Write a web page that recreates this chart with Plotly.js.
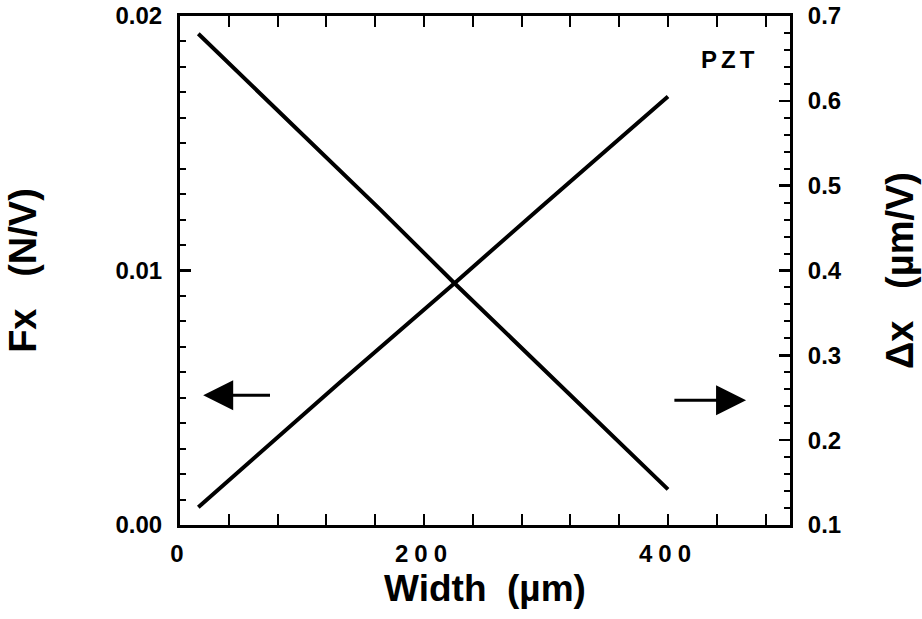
<!DOCTYPE html>
<html>
<head>
<meta charset="utf-8">
<script src="https://cdn.plot.ly/plotly-3.0.1.min.js"></script>
<style>
  html, body { margin: 0; padding: 0; background: #fff; }
  #chart { width: 922px; height: 619px; }
  .xtick text { letter-spacing: 6px; }
  .annotation-text { letter-spacing: 4px; }
</style>
</head>
<body>
<div id="chart"></div>
<script>
// Width (µm) and Fx (N/V), left axis
const widthFx = [15, 82, 164, 225, 312, 400];
const fxValues = [0.0193, 0.0162, 0.0124, 0.0095, 0.0055, 0.0014];

// Width (µm) and Δx (µm/V), right axis
const widthDx = [15, 49, 82, 131, 225, 296, 400];
const dxValues = [0.121, 0.164, 0.206, 0.268, 0.385, 0.475, 0.605];

const xTickVals = [0, 200, 400];
const leftTickVals = [0.00, 0.01, 0.02];
const rightTickVals = [0.1, 0.2, 0.3, 0.4, 0.5, 0.6, 0.7];

const FONT = 'Liberation Sans, Arial, Helvetica, sans-serif';
const NB = '\u00A0';

const traces = [
  { x: widthFx, y: fxValues, type: 'scatter', mode: 'lines', name: 'Fx',
    line: { color: '#000', width: 4 }, yaxis: 'y', hoverinfo: 'skip' },
  { x: widthDx, y: dxValues, type: 'scatter', mode: 'lines', name: 'Δx',
    line: { color: '#000', width: 4 }, yaxis: 'y2', hoverinfo: 'skip' }
];

const layout = {
  width: 922, height: 619,
  margin: { l: 180, r: 132, t: 16, b: 94 },
  paper_bgcolor: '#fff', plot_bgcolor: '#fff',
  showlegend: false,
  font: { family: FONT, color: '#000' },
  xaxis: {
    range: [0, 500], tickvals: xTickVals, ticks: 'inside', ticklen: 11, tickwidth: 2.5,
    tickcolor: '#000', showline: true, linewidth: 3, linecolor: '#000', mirror: 'allticks',
    showgrid: false, zeroline: false,
    tickfont: { family: FONT, size: 24, color: '#000', weight: 'bold' },
    ticklabelstandoff: 5,
    minor: { dtick: 40, tick0: 0, ticks: 'inside', ticklen: 6, tickwidth: 2, tickcolor: '#000', showgrid: false },
    title: { text: 'Width' + NB + NB + '(\u00B5m)' + NB + NB, font: { family: FONT, size: 37, color: '#000', weight: 'bold' }, standoff: 10 }
  },
  yaxis: {
    range: [0, 0.02], tickvals: leftTickVals, tickformat: '.2f', ticks: 'inside', ticklen: 11, tickwidth: 2.5,
    tickcolor: '#000', showline: true, linewidth: 3, linecolor: '#000', mirror: false,
    showgrid: false, zeroline: false,
    tickfont: { family: FONT, size: 24, color: '#000', weight: 'bold' },
    ticklabelstandoff: 10,
    minor: { dtick: 0.001, tick0: 0, ticks: 'inside', ticklen: 6, tickwidth: 2, tickcolor: '#000', showgrid: false },
    title: { text: 'Fx' + NB + NB + NB + '(N/V)', font: { family: FONT, size: 38, color: '#000', weight: 'bold' }, standoff: 68 }
  },
  yaxis2: {
    range: [0.1, 0.7], tickvals: rightTickVals, tickformat: '.1f', overlaying: 'y', side: 'right',
    ticks: 'inside', ticklen: 11, tickwidth: 2.5, tickcolor: '#000',
    showline: true, linewidth: 3, linecolor: '#000', showgrid: false, zeroline: false,
    tickfont: { family: FONT, size: 24, color: '#000', weight: 'bold' },
    ticklabelstandoff: 10,
    minor: { dtick: 0.02, tick0: 0.1, ticks: 'inside', ticklen: 6, tickwidth: 2, tickcolor: '#000', showgrid: false },
    title: { text: '\u0394x' + NB + NB + NB + '(\u00B5m/V)' + NB + NB, font: { family: FONT, size: 38, color: '#000', weight: 'bold' }, standoff: 46 }
  },
  annotations: [
    { x: 450, y: 0.0183, xref: 'x', yref: 'y', text: 'PZT', showarrow: false,
      font: { family: FONT, size: 24, color: '#000', weight: 'bold' } },
    { x: 19, y: 0.0051, ax: 75, ay: 0.0051, xref: 'x', yref: 'y', axref: 'x', ayref: 'y',
      text: '', showarrow: true, arrowhead: 2, arrowsize: 2.0, arrowwidth: 3, arrowcolor: '#000', standoff: 0 },
    { x: 464, y: 0.0049, ax: 404, ay: 0.0049, xref: 'x', yref: 'y', axref: 'x', ayref: 'y',
      text: '', showarrow: true, arrowhead: 2, arrowsize: 2.0, arrowwidth: 3, arrowcolor: '#000', standoff: 0 }
  ]
};

Plotly.newPlot('chart', traces, layout, { staticPlot: true, displayModeBar: false });
</script>
</body>
</html>
